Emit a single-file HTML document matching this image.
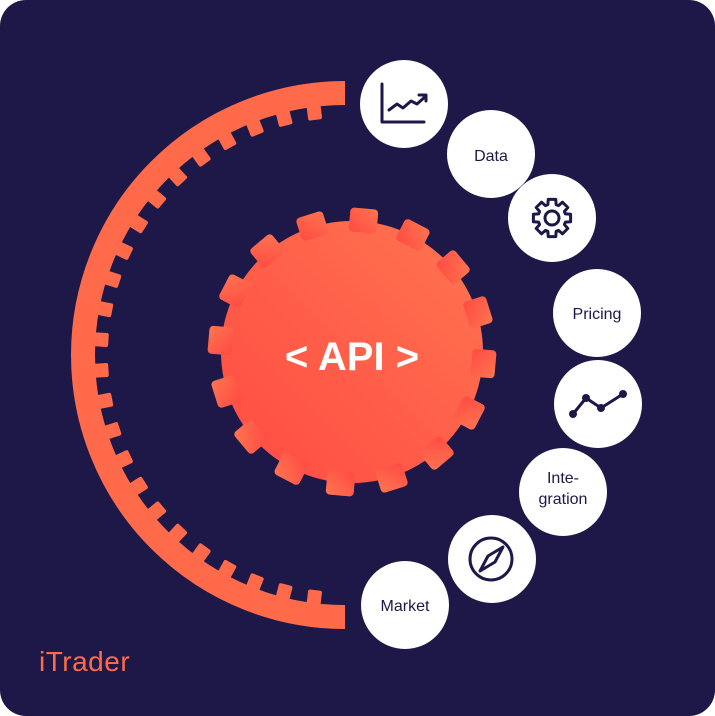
<!DOCTYPE html>
<html><head><style>
html,body{margin:0;padding:0;background:#fff;}
#c{position:relative;width:715px;height:716px;}
svg{position:absolute;left:0;top:0;}
.t{font-family:"Liberation Sans",sans-serif;fill:#1e1848;font-size:16px;text-anchor:middle;}
</style></head><body>
<div id="c">
<svg width="715" height="716" viewBox="0 0 715 716">
<defs>
<linearGradient id="g" x1="0" y1="1" x2="1" y2="0">
<stop offset="0" stop-color="#ff4a43"/><stop offset="1" stop-color="#ff7550"/>
</linearGradient>
</defs>
<rect x="0" y="0" width="715" height="716" rx="26" fill="#1e1848"/>
<path d="M345 93 A262 262 0 0 0 345 617" fill="none" stroke="#ff6b4a" stroke-width="24"/>
<g id="arcteeth" fill="#ff6b4a"></g>
<g id="gear" fill="url(#g)"><circle cx="352" cy="352" r="131"/></g>
<text x="352" y="370" font-family="Liberation Sans, sans-serif" font-weight="bold" font-size="40" fill="#fff" text-anchor="middle">&lt; API &gt;</text>
<g fill="#fff">
<circle cx="404" cy="104" r="44"/><circle cx="491" cy="154" r="44"/>
<circle cx="552" cy="218" r="44"/><circle cx="597" cy="313" r="44"/>
<circle cx="598" cy="404" r="44"/><circle cx="563" cy="492" r="44"/>
<circle cx="492" cy="559" r="44"/><circle cx="405" cy="605" r="44"/>
</g>
<text class="t" x="491" y="161">Data</text>
<text class="t" x="597" y="319">Pricing</text>
<text class="t" x="563" y="483">Inte-</text>
<text class="t" x="563" y="504">gration</text>
<text class="t" x="405" y="611">Market</text>
<g fill="none" stroke="#1e1848" stroke-width="3" stroke-linecap="round" stroke-linejoin="round">
<path d="M382 84 V122 H424"/>
<path d="M389 110 l8-6 l6 4 l8-7 l6 3 l9-8"/><path d="M419 95 h7 v6"/>
<circle cx="552" cy="218" r="7"/>
<path id="ig" d=""/>
<path d="M573 414 L586 398 L601 408 L623 394"/>
<circle cx="491" cy="559" r="21"/>
<path d="M480 571 L488 556 L503 547 L495 562 Z"/>
</g>
<g fill="#1e1848"><circle cx="573" cy="414" r="4"/><circle cx="586" cy="398" r="4"/><circle cx="601" cy="408" r="4"/><circle cx="623" cy="394" r="4"/></g>
<text x="39" y="671" font-family="Liberation Sans, sans-serif" font-size="28" fill="#ff6b4a" letter-spacing="0.5">iTrader</text>
</svg>
</div>
<script>
var ns="http://www.w3.org/2000/svg";
var at=document.getElementById("arcteeth");
for(var i=1;i<25;i++){
var r=document.createElementNS(ns,"rect");
r.setAttribute("x",-7);r.setAttribute("y",-252);r.setAttribute("width",14);r.setAttribute("height",15);r.setAttribute("rx",2);
r.setAttribute("transform","translate(345 355) rotate("+(-i*180/25)+")");at.appendChild(r);}
var g=document.getElementById("gear");
for(var i=0;i<16;i++){var r=document.createElementNS(ns,"rect");
r.setAttribute("x",-14);r.setAttribute("y",-144);r.setAttribute("width",28);r.setAttribute("height",24);r.setAttribute("rx",4);
r.setAttribute("transform","translate(352 352) rotate("+(i*22.5+5)+")");g.appendChild(r);}
var d="";var cx=552,cy=218;
for(var i=0;i<8;i++){var a0=i*Math.PI/4;var pts=[[a0-0.3,14],[a0-0.2,19],[a0+0.2,19],[a0+0.3,14]];
pts.forEach(function(p,j){d+=(i==0&&j==0?"M":"L")+(cx+p[1]*Math.cos(p[0])).toFixed(1)+" "+(cy+p[1]*Math.sin(p[0])).toFixed(1)+" ";});}
document.getElementById("ig").setAttribute("d",d+"Z");
</script>
</body></html>
